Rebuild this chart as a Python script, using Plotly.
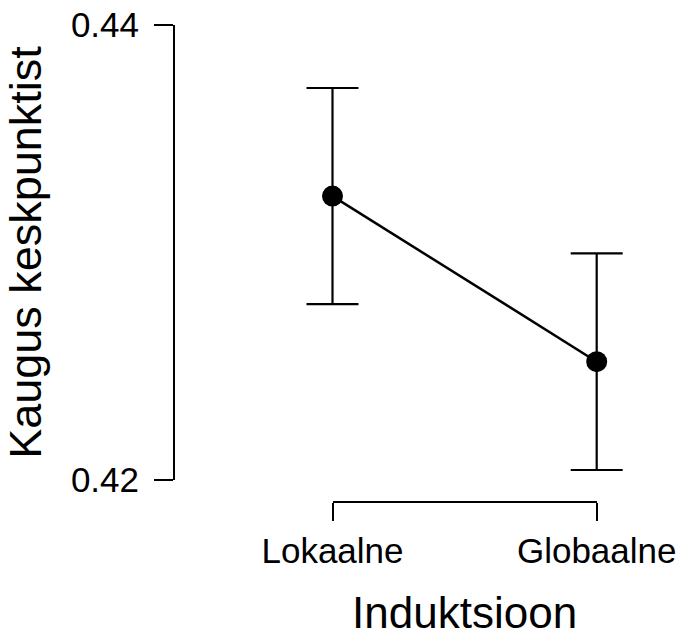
import plotly.graph_objects as go

categories = ["Lokaalne", "Globaalne"]
means = [0.43248, 0.42520]
ci_err = [0.00475, 0.00476]
y_ticks = [0.42, 0.44]
y_tick_labels = ["0.42", "0.44"]
x_title = "Induktsioon"
y_title = "Kaugus keskpunktist"

W, H = 682, 637
ML, MR, MT, MB = 175, 20, 25, 135
plot_w = W - ML - MR
plot_h = H - MT - MB
# pixel positions of the two categories
px0, px1 = 332.5, 596.7
unit = px1 - px0
xr = [-(px0 - ML) / unit, 1 + (W - MR - px1) / unit]
dom2 = [(px0 - ML) / plot_w, (px1 - ML) / plot_w]
ydom = [22 / plot_h, 1]

FONT = "Liberation Sans, Arial, sans-serif"

fig = go.Figure()
fig.add_trace(go.Scatter(
    x=categories, y=means, mode="lines+markers",
    line=dict(color="black", width=2.5),
    marker=dict(color="black", size=21),
    error_y=dict(type="data", array=ci_err, visible=True, color="black",
                 thickness=2.2, width=26),
    cliponaxis=False, showlegend=False, hoverinfo="skip",
))
# helper trace so the bracket axis is drawn
fig.add_trace(go.Scatter(
    x=categories, y=means, xaxis="x2", yaxis="y", mode="markers",
    marker=dict(opacity=0), showlegend=False, hoverinfo="skip",
))

fig.update_layout(
    template="none",
    width=W, height=H,
    margin=dict(l=ML, r=MR, t=MT, b=MB, autoexpand=False),
    paper_bgcolor="white", plot_bgcolor="rgba(0,0,0,0)",
    font=dict(family=FONT, color="black"),
    xaxis=dict(type="category", categoryarray=categories, range=xr,
               domain=[0, 1], showline=False, showgrid=False,
               zeroline=False, showticklabels=False, ticks="",
               automargin=False),
    xaxis2=dict(type="category", categoryarray=categories, range=[0, 1],
                domain=dom2, anchor="free", position=0,
                showline=True, linecolor="black", linewidth=2,
                ticks="outside", ticklen=18, tickwidth=2, tickcolor="black",
                showgrid=False, zeroline=False, automargin=False,
                tickfont=dict(size=35, family=FONT), ticklabelstandoff=0,
                title=dict(text=x_title, font=dict(size=44, family=FONT),
                           standoff=34)),
    yaxis=dict(range=[y_ticks[0], y_ticks[-1]], domain=ydom,
               tickvals=y_ticks, ticktext=y_tick_labels,
               showline=True, linecolor="black", linewidth=2,
               ticks="outside", ticklen=19, tickwidth=2, tickcolor="black",
               showgrid=False, zeroline=False, automargin=False,
               tickfont=dict(size=35, family=FONT), ticklabelstandoff=8,
               title=dict(text=y_title, font=dict(size=45, family=FONT),
                          standoff=16)),
)

fig.write_html("out.html",
               config={"displayModeBar": False},
               post_script="document.body.style.margin='0';"
                           "document.body.style.padding='0';")
